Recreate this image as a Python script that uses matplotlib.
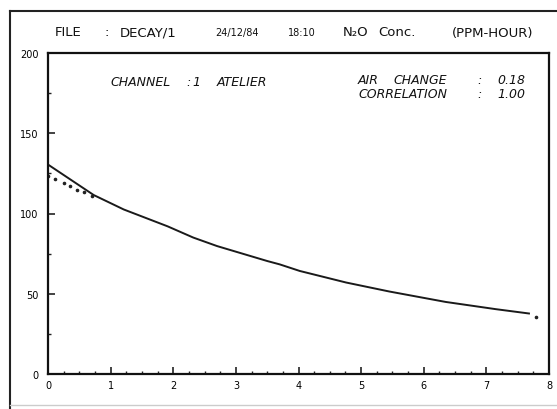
import matplotlib.pyplot as plt
from matplotlib.lines import Line2D
from matplotlib.ticker import MultipleLocator

# fitted decay curve
fit_t = [0, 0.73, 1.21, 1.91, 2.32, 2.70, 3.50, 3.70, 4.02, 4.76, 5.45, 6.35, 7.15, 7.68]
fit_y = [130.5, 111.5, 102.5, 92, 85, 79.7, 70.4, 68.3, 64.2, 57, 51.4, 44.9, 40.4, 37.7]

# measured points visible apart from the curve
meas_t = [0.0, 0.11, 0.25, 0.35, 0.47, 0.58, 0.71, 7.79]
meas_y = [123.6, 121.5, 119, 117.4, 114.5, 113.2, 111, 35.6]

x_ticks = [0, 1, 2, 3, 4, 5, 6, 7, 8]
y_ticks = [0, 50, 100, 150, 200]

# header / annotation words with their left edge (pixels)
title_words = [('FILE', 55), (':', 105), ('DECAY/1', 120), ('N₂O', 343), ('Conc.', 378), ('(PPM-HOUR)', 452)]
stamp_words = [('24/12/84', 215), ('18:10', 288)]
chan_words = [('CHANNEL', 110), (':', 186), ('1', 192), ('ATELIER', 217)]
air_words = [('AIR', 358), ('CHANGE', 393), (':', 477), ('0.18', 497)]
corr_words = [('CORRELATION', 358), (':', 477), ('1.00', 497)]

W, H = 557, 410
font = 'DejaVu Sans'

fig = plt.figure(figsize=(W / 100, H / 100), dpi=100)
ax = fig.add_axes([48 / W, 35 / H, 501 / W, 321 / H])

ax.plot(fit_t, fit_y, color='#1a1a1a', lw=1.4)
ax.plot(meas_t, meas_y, ls='none', marker='o', ms=1.6, color='#222222')

ax.set_xlim(0, 8)
ax.set_ylim(0, 200)
ax.set_xticks(x_ticks)
ax.set_yticks(y_ticks)
ax.xaxis.set_minor_locator(MultipleLocator(0.25))
ax.yaxis.set_minor_locator(MultipleLocator(25))
ax.tick_params(which='major', direction='in', length=5, width=1.2, color='#222222',
               labelsize=7)
ax.tick_params(axis='y', which='major', pad=7)
ax.tick_params(axis='x', which='major', pad=4)
ax.tick_params(which='minor', direction='in', length=2, width=1.0, color='#222222')
for lab in ax.get_xticklabels() + ax.get_yticklabels():
    lab.set_family(font)
for s in ax.spines.values():
    s.set_linewidth(1.6)
    s.set_color('#111111')

def words(items, y, size, **kw):
    for s, x in items:
        fig.text(x / W, 1 - y / H, s, va='center', ha='left', family=font,
                 color='#111111', fontsize=size, **kw)

words(title_words, 33, 9.5)
words(stamp_words, 33, 7)
words(chan_words, 83, 9, style='italic')
words(air_words, 81, 9, style='italic')
words(corr_words, 95, 9, style='italic')

# outer frame of the printed page
fig.add_artist(Line2D([10 / W, 10 / W], [1 - 12 / H, 0], transform=fig.transFigure,
                      color='#222222', lw=1.5))
fig.add_artist(Line2D([10 / W, 1], [1 - 12 / H, 1 - 12 / H], transform=fig.transFigure,
                      color='#222222', lw=1.5))
fig.add_artist(Line2D([10 / W, 1], [1 - 406 / H, 1 - 406 / H], transform=fig.transFigure,
                      color='#cccccc', lw=1.0))

fig.savefig('out.png', dpi=100)
